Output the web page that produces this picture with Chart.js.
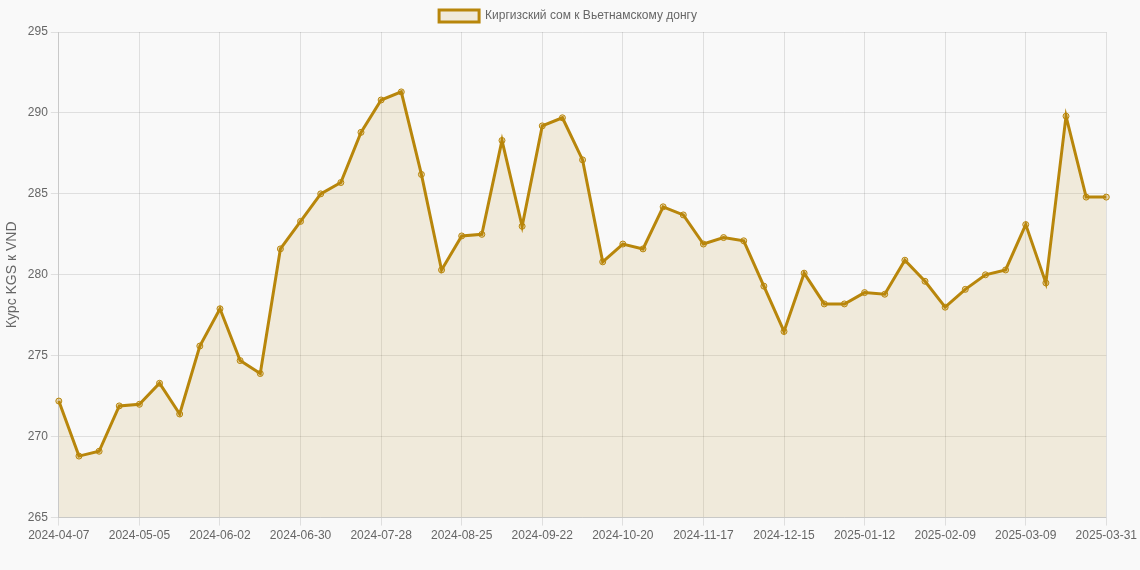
<!DOCTYPE html>
<html><head><meta charset="utf-8">
<script src="https://cdn.jsdelivr.net/npm/chart.js@4"></script>
<style>html,body{margin:0;background:#f9f9f9;}#w{width:1140px;height:570px;}</style>
</head><body><div id="w"><canvas id="c"></canvas></div>
<script>
const startDate = "2024-04-07";
const lastLabel = "2025-03-31";
const values = [272.2,268.8,269.1,271.9,272.0,273.3,271.4,275.6,277.9,274.7,273.9,281.6,283.3,285.0,285.7,288.8,290.8,291.3,286.2,280.3,282.4,282.5,288.3,283.0,289.2,289.7,287.1,280.8,281.9,281.6,284.2,283.7,281.9,282.3,282.1,279.3,276.5,280.1,278.2,278.2,278.9,278.8,280.9,279.6,278.0,279.1,280.0,280.3,283.1,279.5,289.8,284.8,284.8];
const labels = [];
{ const d = new Date(startDate+"T00:00:00Z");
  for (let i=0;i<values.length-1;i++){ labels.push(d.toISOString().slice(0,10)); d.setUTCDate(d.getUTCDate()+7); }
  labels.push(lastLabel); }
const shown = i => i%4===0 || i===labels.length-1;
Chart.defaults.font.family = "'Liberation Sans', Arial, sans-serif";
Chart.defaults.color = "#666";
new Chart(document.getElementById('c'), {
  type:'line',
  data:{labels, datasets:[{label:'Киргизский сом к Вьетнамскому донгу', data:values,
    borderColor:'#b8860b', backgroundColor:'rgba(184,134,11,0.12)', fill:true, borderWidth:3,
    tension:0, pointRadius:3, pointBackgroundColor:'rgba(184,134,11,0.3)', pointBorderColor:'#b8860b', pointBorderWidth:1}]},
  options:{responsive:true, maintainAspectRatio:false, animation:false,
    layout:{padding:{right:4,bottom:24}},
    plugins:{legend:{labels:{boxWidth:40,font:{size:12}}}},
    scales:{
      x:{grid:{color:c=>shown(c.index)?'rgba(0,0,0,0.1)':'rgba(0,0,0,0)'}, ticks:{autoSkip:false, maxRotation:0, font:{size:12},
        callback:function(v,i){ return shown(i) ? labels[i] : ''; }}},
      y:{min:265,max:295, ticks:{stepSize:5,font:{size:12}}, grid:{color:'rgba(0,0,0,0.1)'},
        title:{display:true,text:'Курс KGS к VND',font:{size:14}}}
    }}
});
</script></body></html>
